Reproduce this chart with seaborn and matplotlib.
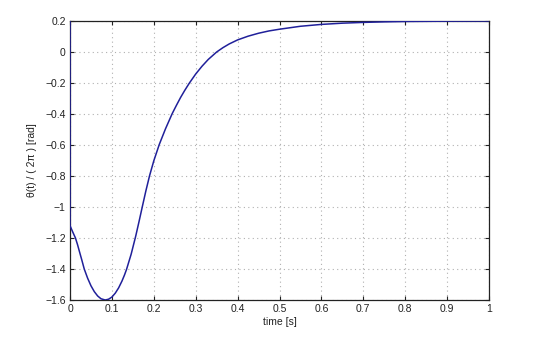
import matplotlib
matplotlib.use("Agg")
import matplotlib.pyplot as plt
import seaborn as sns
import pandas as pd

time_s = [0, 0, 0.006, 0.013, 0.018, 0.023, 0.028, 0.034, 0.042, 0.05, 0.058, 0.066,
          0.074, 0.084, 0.092, 0.1, 0.108, 0.116, 0.124, 0.13, 0.135, 0.146, 0.157,
          0.165, 0.173, 0.181, 0.19, 0.2, 0.213, 0.228, 0.244, 0.254, 0.264, 0.274,
          0.285, 0.3, 0.315, 0.33, 0.35, 0.365, 0.38, 0.4, 0.425, 0.45, 0.475, 0.5,
          0.55, 0.6, 0.65, 0.7, 0.75, 0.8, 0.9, 1.0]
theta = [0.2, -1.12, -1.158, -1.2, -1.243, -1.292, -1.34, -1.4, -1.459, -1.508, -1.546,
         -1.574, -1.592, -1.6, -1.595, -1.581, -1.556, -1.522, -1.478, -1.439, -1.402,
         -1.304, -1.186, -1.091, -0.993, -0.897, -0.797, -0.702, -0.597, -0.495, -0.397,
         -0.344, -0.293, -0.247, -0.2, -0.142, -0.092, -0.048, 0.0, 0.028, 0.052, 0.078,
         0.102, 0.121, 0.136, 0.147, 0.166, 0.178, 0.186, 0.191, 0.1945, 0.197, 0.199,
         0.2]
x_ticks = [0, 0.1, 0.2, 0.3, 0.4, 0.5, 0.6, 0.7, 0.8, 0.9, 1]
x_labels = ["0", "0.1", "0.2", "0.3", "0.4", "0.5", "0.6", "0.7", "0.8", "0.9", "1"]
y_ticks = [-1.6, -1.4, -1.2, -1, -0.8, -0.6, -0.4, -0.2, 0, 0.2]
y_labels = ["\u22121.6", "\u22121.4", "\u22121.2", "\u22121", "\u22120.8", "\u22120.6",
            "\u22120.4", "\u22120.2", "0", "0.2"]

sns.set_theme(style="white")
plt.rcParams['font.family'] = ['Liberation Sans', 'DejaVu Sans']

df = pd.DataFrame({"t": time_s, "theta": theta})

fig = plt.figure(figsize=(5.4, 3.5), dpi=100)
ax = fig.add_axes([70/540, 50/350, (489-70)/540, (300-21)/350])
sns.lineplot(data=df, x="t", y="theta", ax=ax, sort=False, estimator=None,
             color="#20209a", linewidth=1.1, zorder=3)

ax.set_xlim(0, 1)
ax.set_ylim(-1.6, 0.2)
ax.set_xticks(x_ticks)
ax.set_xticklabels(x_labels)
ax.set_yticks(y_ticks)
ax.set_yticklabels(y_labels)
ax.grid(True, linestyle=(0, (1, 3)), color="#b0b0b0", linewidth=0.8)
ax.tick_params(direction="in", length=3, width=0.8, colors="#222222",
               labelsize=7.5, top=True, right=True, bottom=True, left=True, pad=3)
for sp in ax.spines.values():
    sp.set_visible(True)
    sp.set_color("#222222")
    sp.set_linewidth(0.9)
ax.set_xlabel("time [s]", fontsize=7.5, labelpad=2, color="#222222")
ax.set_ylabel("\u03b8(t) / ( 2\u03c0 ) [rad]", fontsize=7.5, labelpad=6, color="#222222")

fig.savefig("out.png", dpi=100)
